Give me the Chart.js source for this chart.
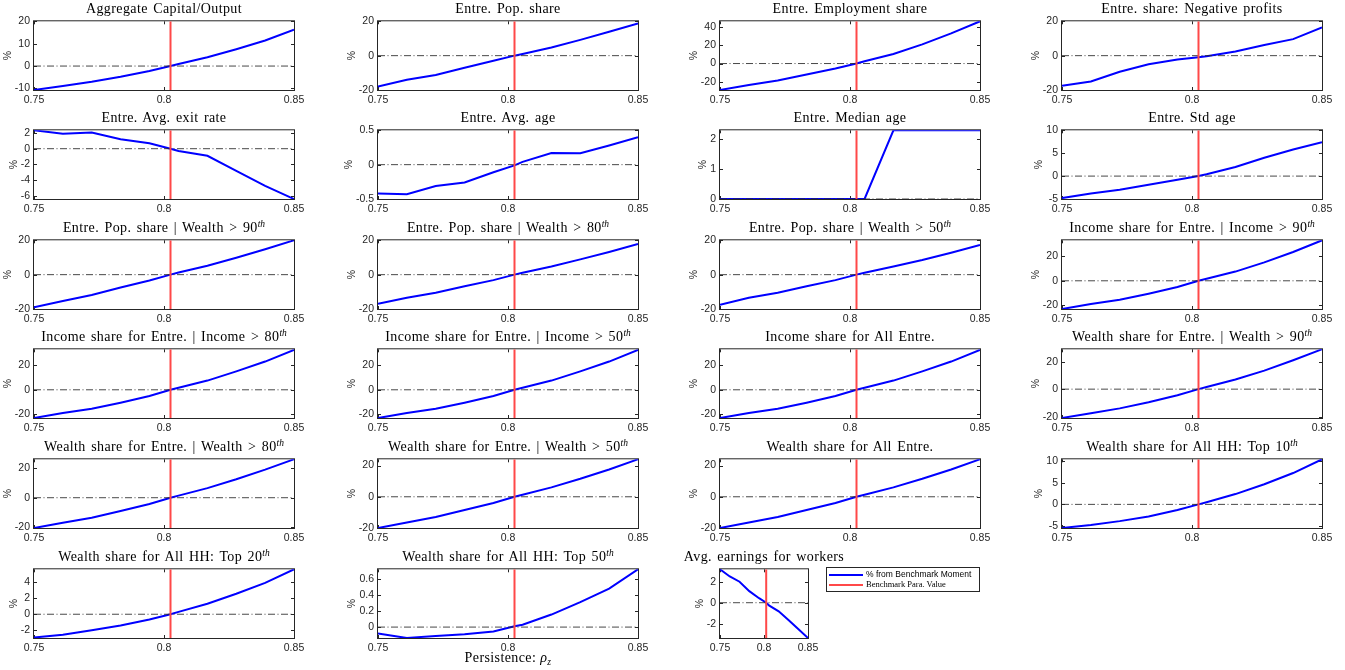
<!DOCTYPE html>
<html><head><meta charset="utf-8">
<script src="https://cdn.jsdelivr.net/npm/chart.js@4.4.1/dist/chart.umd.min.js"></script>
<style>
body{margin:0;background:#fff;width:1345px;height:670px;overflow:hidden;position:relative;}
canvas{position:absolute;}
.ttl{position:absolute;font-family:'Liberation Serif',serif;font-size:14px;letter-spacing:0.4px;word-spacing:1.5px;color:#000;white-space:nowrap;transform:translate(-50%,-50%);line-height:16px;}
.ttl sup{font-size:9.5px;line-height:0;vertical-align:5px;letter-spacing:0;}
#xlab{position:absolute;font-family:'Liberation Serif',serif;font-size:14px;letter-spacing:0.4px;white-space:nowrap;transform:translate(-50%,-50%);}
#xlab sub{font-size:9.5px;font-style:italic;vertical-align:-3px;line-height:0;}
#legend{position:absolute;border:1px solid #262626;background:#fff;box-sizing:border-box;}
.lrow{position:absolute;left:2px;height:10px;white-space:nowrap;}
.lsw{position:absolute;left:0;top:4px;width:34px;height:2px;}
.ltx{position:absolute;left:37px;top:-1px;font-size:8.5px;line-height:11px;color:#000;}
</style></head><body>
<script>
// ---------------- DATA ----------------
const X = [0.75, 0.7611, 0.7722, 0.7833, 0.7944, 0.8025, 0.8056, 0.8167, 0.8278, 0.8389, 0.85];
const BENCH = 0.8025;
const xTickVals = [0.75, 0.8, 0.85];
const xTickLabels = ['0.75', '0.8', '0.85'];

const aggCapitalOutput = [-10.7, -8.9, -7.0, -4.8, -2.2, 0, 0.9, 3.9, 7.5, 11.4, 16.2];
const entrePopShare    = [-18, -14, -11.3, -7, -3, 0, 1, 4.8, 9.2, 13.9, 18.8];
const entreEmpShare    = [-29, -23.5, -18.5, -12, -5.5, 0, 2.5, 10.5, 21, 33, 46.3];
const entreNegProfits  = [-17.5, -15, -9.4, -5, -2.3, -1, -0.4, 2.4, 6.2, 9.6, 16.4];
const entreExitRate    = [2.33, 1.9, 2.05, 1.2, 0.7, 0, -0.3, -0.9, -2.8, -4.7, -6.37];
const entreAvgAge      = [-0.42, -0.43, -0.31, -0.26, -0.11, -0.01, 0.04, 0.17, 0.165, 0.28, 0.4];
const entreMedianAge   = [0, 0, 0, 0, 0, 0, 0, 2.28, 2.28, 2.28, 2.28];
const entreStdAge      = [-4.8, -3.8, -3.0, -1.9, -0.8, 0, 0.4, 2.0, 4.0, 5.8, 7.4];
const popShareW90      = [-19, -15.3, -11.8, -7.5, -3.4, 0, 1.2, 5.2, 9.8, 14.8, 20];
const popShareW80      = [-17, -13.5, -10.5, -6.8, -3.2, 0, 1.1, 4.8, 8.9, 13.2, 17.8];
const popShareW50      = [-17.5, -13.5, -10.5, -6.8, -3.2, 0, 1.1, 4.7, 8.5, 12.8, 17.3];
const incShareI90      = [-23, -19, -15.5, -10.5, -5, 0, 1.6, 7.5, 15, 23.5, 33];
const incShareI80      = [-23, -19, -15.5, -10.5, -5, 0, 1.6, 7.5, 15, 23, 32.5];
const incShareI50      = [-23, -19, -15.5, -10.5, -5, 0, 1.6, 7.5, 15, 23, 32.5];
const incShareAll      = [-23, -19, -15.5, -10.5, -5, 0, 1.6, 7.5, 15, 23, 32.5];
const wealthShareW90   = [-21, -17.5, -14, -9.5, -4.5, 0, 1.5, 7, 13.5, 21, 29];
const wealthShareW80   = [-20.5, -17, -13.5, -9, -4.3, 0, 1.4, 6.5, 12.5, 19, 26];
const wealthShareW50   = [-20, -16.5, -13, -8.5, -4, 0, 1.3, 6, 11.5, 17.5, 24];
const wealthShareAll   = [-20, -16.5, -13, -8.5, -4, 0, 1.3, 6, 11.5, 17.5, 24];
const hhTop10          = [-5.5, -4.8, -3.9, -2.8, -1.3, 0, 0.5, 2.4, 4.7, 7.3, 10.5];
const hhTop20          = [-2.9, -2.55, -2.0, -1.4, -0.65, 0, 0.3, 1.3, 2.55, 3.9, 5.6];
const hhTop50          = [-0.08, -0.136, -0.11, -0.09, -0.056, 0.01, 0.03, 0.156, 0.31, 0.48, 0.72];
const workerEarnings   = [3.18, 2.5, 2.0, 1.1, 0.43, 0, -0.25, -0.82, -1.65, -2.5, -3.36];

const panelTitles = [
  'Aggregate Capital/Output', 'Entre. Pop. share', 'Entre. Employment share', 'Entre. share: Negative profits',
  'Entre. Avg. exit rate', 'Entre. Avg. age', 'Entre. Median age', 'Entre. Std age',
  'Entre. Pop. share | Wealth &gt; 90<sup><i>th</i></sup>', 'Entre. Pop. share | Wealth &gt; 80<sup><i>th</i></sup>',
  'Entre. Pop. share | Wealth &gt; 50<sup><i>th</i></sup>', 'Income share for Entre. | Income &gt; 90<sup><i>th</i></sup>',
  'Income share for Entre. | Income &gt; 80<sup><i>th</i></sup>', 'Income share for Entre. | Income &gt; 50<sup><i>th</i></sup>',
  'Income share for All Entre.', 'Wealth share for Entre. | Wealth &gt; 90<sup><i>th</i></sup>',
  'Wealth share for Entre. | Wealth &gt; 80<sup><i>th</i></sup>', 'Wealth share for Entre. | Wealth &gt; 50<sup><i>th</i></sup>',
  'Wealth share for All Entre.', 'Wealth share for All HH: Top 10<sup><i>th</i></sup>',
  'Wealth share for All HH: Top 20<sup><i>th</i></sup>', 'Wealth share for All HH: Top 50<sup><i>th</i></sup>',
  'Avg. earnings for workers'
];
const panelSeries = [
  aggCapitalOutput, entrePopShare, entreEmpShare, entreNegProfits,
  entreExitRate, entreAvgAge, entreMedianAge, entreStdAge,
  popShareW90, popShareW80, popShareW50, incShareI90,
  incShareI80, incShareI50, incShareAll, wealthShareW90,
  wealthShareW80, wealthShareW50, wealthShareAll, hhTop10,
  hhTop20, hhTop50, workerEarnings
];
const panelYLims = [
  [-10.7, 20], [-20, 20], [-29, 46.3], [-20, 20],
  [-6.37, 2.33], [-0.5, 0.5], [0, 2.28], [-5, 10],
  [-20, 20], [-20, 20], [-20, 20], [-23, 33],
  [-23, 33], [-23, 33], [-23, 33], [-21, 29],
  [-20.5, 26], [-20, 24], [-20, 24], [-5.5, 10.5],
  [-2.96, 5.6], [-0.136, 0.72], [-3.36, 3.18]
];
const panelYTicks = [
  [-10, 0, 10, 20], [-20, 0, 20], [-20, 0, 20, 40], [-20, 0, 20],
  [-6, -4, -2, 0, 2], [-0.5, 0, 0.5], [0, 1, 2], [-5, 0, 5, 10],
  [-20, 0, 20], [-20, 0, 20], [-20, 0, 20], [-20, 0, 20],
  [-20, 0, 20], [-20, 0, 20], [-20, 0, 20], [-20, 0, 20],
  [-20, 0, 20], [-20, 0, 20], [-20, 0, 20], [-5, 0, 5, 10],
  [-2, 0, 2, 4], [0, 0.2, 0.4, 0.6], [-2, 0, 2]
];
const legendLabels = ['% from Benchmark Moment', 'Benchmark Para. Value'];
const xAxisLabel = 'Persistence: &rho;<sub>z</sub>';

// ---------------- LAYOUT ----------------
const COL_LEFT = [34, 378, 720, 1062];
const ROW_TOP = [19, 128, 238, 347, 457, 567];
const AX_W = 260, AX_H = 71, NARROW_W = 88;
const YW = 46, PT = 8, PR = 18, XB = 20;
const TICK_FONT = {family: "'Liberation Sans', Arial, sans-serif", size: 10.5};
const AX_COLOR = '#262626';
const BLUE = 'rgb(0,0,255)';
const RED = 'rgb(255,72,72)';

const measureCtx = document.createElement('canvas').getContext('2d');
measureCtx.font = TICK_FONT.size + 'px ' + TICK_FONT.family;

const boxPlugin = {
  id: 'matlabBox',
  beforeDatasetsDraw(chart) {
    const {ctx, chartArea: {left, right, top, bottom}, scales: {x, y}} = chart;
    ctx.save();
    ctx.strokeStyle = AX_COLOR;
    ctx.lineWidth = 1;
    ctx.strokeRect(left - 0.5, top - 0.5, right - left + 1, bottom - top + 1);
    const tl = 3;
    ctx.beginPath();
    x.ticks.forEach(t => {
      const px = Math.round(x.getPixelForValue(t.value)) + 0.5;
      ctx.moveTo(px, bottom); ctx.lineTo(px, bottom - tl);
      ctx.moveTo(px, top); ctx.lineTo(px, top + tl);
    });
    y.ticks.forEach(t => {
      const py = Math.round(y.getPixelForValue(t.value)) + 0.5;
      ctx.moveTo(left, py); ctx.lineTo(left + tl, py);
      ctx.moveTo(right, py); ctx.lineTo(right - tl, py);
    });
    ctx.stroke();
    ctx.restore();
  }
};

function makePanel(i, colLeft, rowTop, axW) {
  const vals = panelSeries[i];
  const [yMin, yMax] = panelYLims[i];
  const yTicks = panelYTicks[i];
  const cv = document.createElement('canvas');
  const w = YW + axW + PR, h = PT + AX_H + XB;
  cv.width = w; cv.height = h;
  cv.style.left = (colLeft - YW) + 'px';
  cv.style.top = (rowTop - PT) + 'px';
  cv.style.width = w + 'px'; cv.style.height = h + 'px';
  document.body.appendChild(cv);

  const tickW = Math.max(...yTicks.map(v => measureCtx.measureText(String(v)).width));
  const titleSize = 10.5, lh = titleSize * 1.2;
  const padTop = Math.max(0, YW - (tickW + 4 + 7) - lh / 2);

  const t = document.createElement('div');
  t.className = 'ttl';
  t.innerHTML = panelTitles[i];
  t.style.left = (colLeft + axW / 2) + 'px';
  t.style.top = (rowTop - 10) + 'px';
  document.body.appendChild(t);

  new Chart(cv, {
    type: 'line',
    data: {
      datasets: [
        {data: X.map((xv, k) => ({x: xv, y: vals[k]})), borderColor: BLUE, borderWidth: 2, order: 3},
        {data: [{x: X[0], y: 0}, {x: X[X.length - 1], y: 0}], borderColor: 'rgba(40,40,40,0.85)', borderWidth: 1, borderDash: [7, 2.5, 1, 2.5], order: 2},
        {data: [{x: BENCH, y: yMin}, {x: BENCH, y: yMax}], borderColor: RED, borderWidth: 2, order: 1}
      ]
    },
    options: {
      responsive: false, animation: false, devicePixelRatio: 1,
      layout: {padding: {left: 0, top: PT, right: PR, bottom: 0}, autoPadding: false},
      elements: {point: {radius: 0}, line: {tension: 0}},
      plugins: {legend: {display: false}, tooltip: {enabled: false}, title: {display: false}},
      scales: {
        x: {
          type: 'linear', min: xTickVals[0], max: xTickVals[xTickVals.length - 1],
          afterBuildTicks: s => { s.ticks = xTickVals.map(v => ({value: v})); },
          afterFit: s => { s.height = XB; },
          grid: {display: false, drawTicks: false}, border: {display: false},
          ticks: {autoSkip: false, maxRotation: 0, minRotation: 0, padding: 4, color: AX_COLOR, font: TICK_FONT,
                  callback: (v) => xTickLabels[xTickVals.indexOf(v)]}
        },
        y: {
          type: 'linear', min: yMin, max: yMax,
          afterBuildTicks: s => { s.ticks = yTicks.map(v => ({value: v})); },
          afterFit: s => { s.width = YW; },
          grid: {display: false, drawTicks: false}, border: {display: false},
          ticks: {autoSkip: false, padding: 4, color: AX_COLOR, font: TICK_FONT, callback: v => String(v)},
          title: {display: true, text: '%', color: AX_COLOR, font: {family: TICK_FONT.family, size: titleSize}, padding: {top: padTop, bottom: 0}}
        }
      }
    },
    plugins: [boxPlugin]
  });
}

for (let i = 0; i < panelSeries.length; i++) {
  const r = Math.floor(i / 4), c = i % 4;
  const axW = (i === 22) ? NARROW_W : AX_W;
  makePanel(i, COL_LEFT[c], ROW_TOP[r], axW);
}

// x-axis label
const xl = document.createElement('div');
xl.id = 'xlab';
xl.innerHTML = xAxisLabel.replace('&rho;', '<i>&rho;</i>');
xl.style.left = (COL_LEFT[1] + AX_W / 2) + 'px';
xl.style.top = '658px';
document.body.appendChild(xl);

// legend
const lg = document.createElement('div');
lg.id = 'legend';
lg.style.left = '826px'; lg.style.top = '567px'; lg.style.width = '154px'; lg.style.height = '25px';
const legColors = [BLUE, RED];
const legFonts = ["'Liberation Sans', Arial, sans-serif", "'Liberation Serif', serif"];
legendLabels.forEach((lab, k) => {
  const row = document.createElement('div');
  row.className = 'lrow';
  row.style.top = (2 + k * 10) + 'px';
  row.innerHTML = '<span class="lsw" style="background:' + legColors[k] + '"></span><span class="ltx" style="font-family:' + legFonts[k] + '">' + lab + '</span>';
  lg.appendChild(row);
});
document.body.appendChild(lg);
</script>
</body></html>
